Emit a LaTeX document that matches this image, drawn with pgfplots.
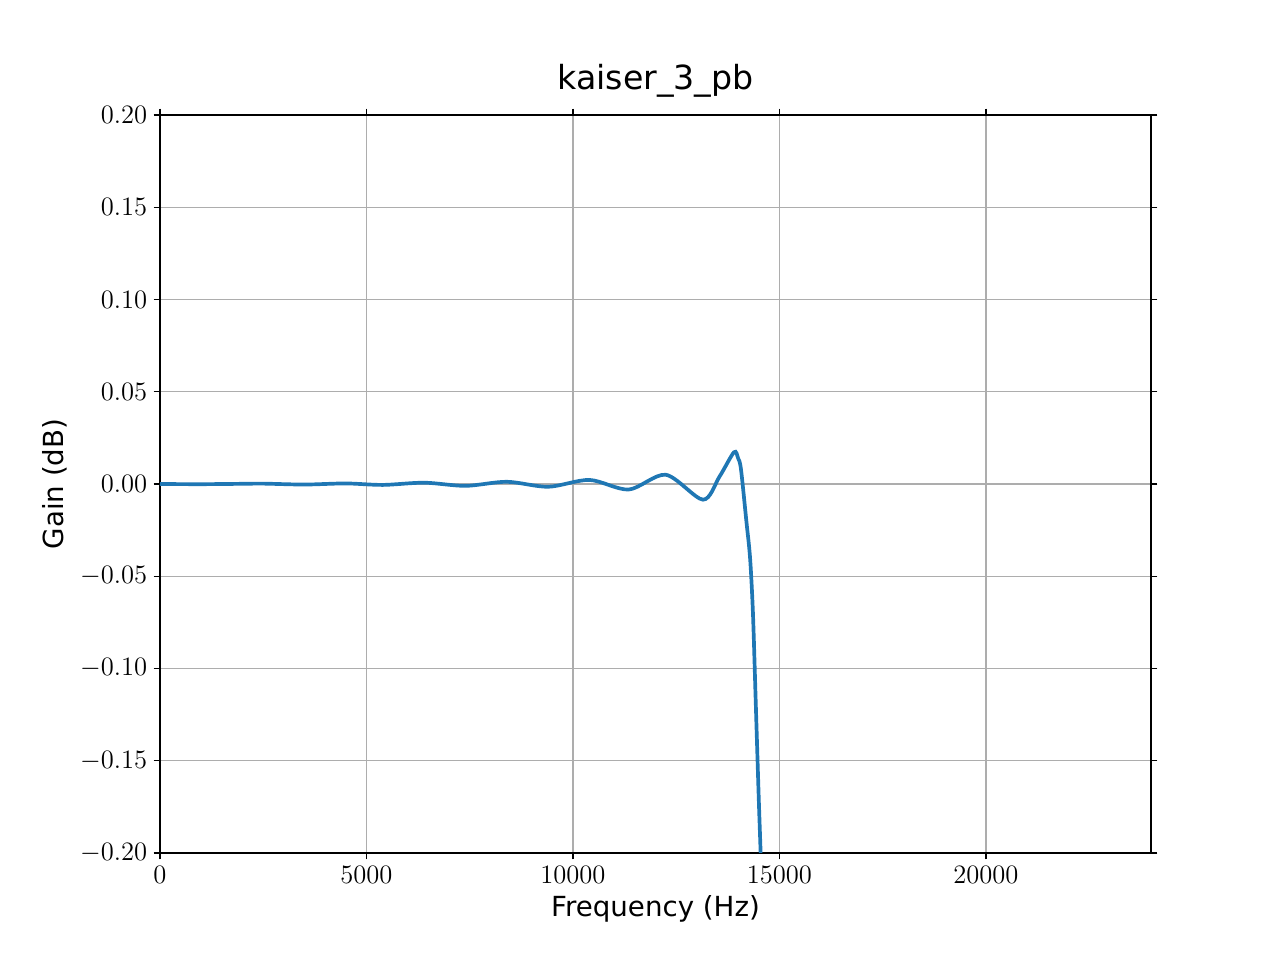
\documentclass[border=0pt]{standalone}
\usepackage{pgfplots}
\pgfplotsset{compat=1.18}
\usepackage{fontspec}
\setmainfont{DejaVu Sans}
\begin{document}
\begin{tikzpicture}
\path[use as bounding box] (0,0) rectangle (12.8in*0.75,9.6in*0.75);
\begin{axis}[at={(1.2in,0.8025in)},anchor=south west,
 width=7.4325in,height=5.535in,scale only axis,
 xmin=0,xmax=24000,ymin=-0.2,ymax=0.2,
 xtick={0,5000,10000,15000,20000},
 ytick={-0.2,-0.15,-0.1,-0.05,0,0.05,0.1,0.15,0.2},
 yticklabel style={/pgf/number format/.cd,fixed,fixed zerofill,precision=2},
 scaled x ticks=false,
 xticklabel style={/pgf/number format/1000 sep={}},
 grid=major, grid style={color=black!32,line width=0.8pt},
 tick style={black,line width=0.8pt}, tick align=outside,
 major tick length=3.5pt,
 axis line style={line width=0.8pt},
 ticklabel style={font=\fontsize{15}{18}\selectfont},
 xlabel={Frequency (Hz)},ylabel={Gain (dB)},
 label style={font=\fontsize{15}{18}\selectfont},
 title={kaiser\_3\_pb},title style={font=\fontsize{18}{21}\selectfont},
 clip=true]
\addplot[color={rgb,255:red,31;green,119;blue,180},line width=2pt,smooth,tension=0.5] coordinates {
(0,0)(1000,-0.0001)(2000,0.0001)(2500,0.0002)(3500,-0.0003)(4500,0.0003)(5400,-0.0005)(6400,0.0007)(7400,-0.001)(8400,0.0012)(9400,-0.0015)(10400,0.0022)(11350,-0.003)(12250,0.005)(13150,-0.0085)(13550,0.004)(13900,0.0172)(14000,0.014)(14070,0.008)(14200,-0.02)(14290,-0.04)(14360,-0.07)(14430,-0.12)(14500,-0.17)(14560,-0.21)(14600,-0.25)};
\end{axis}
\end{tikzpicture}
\end{document}
